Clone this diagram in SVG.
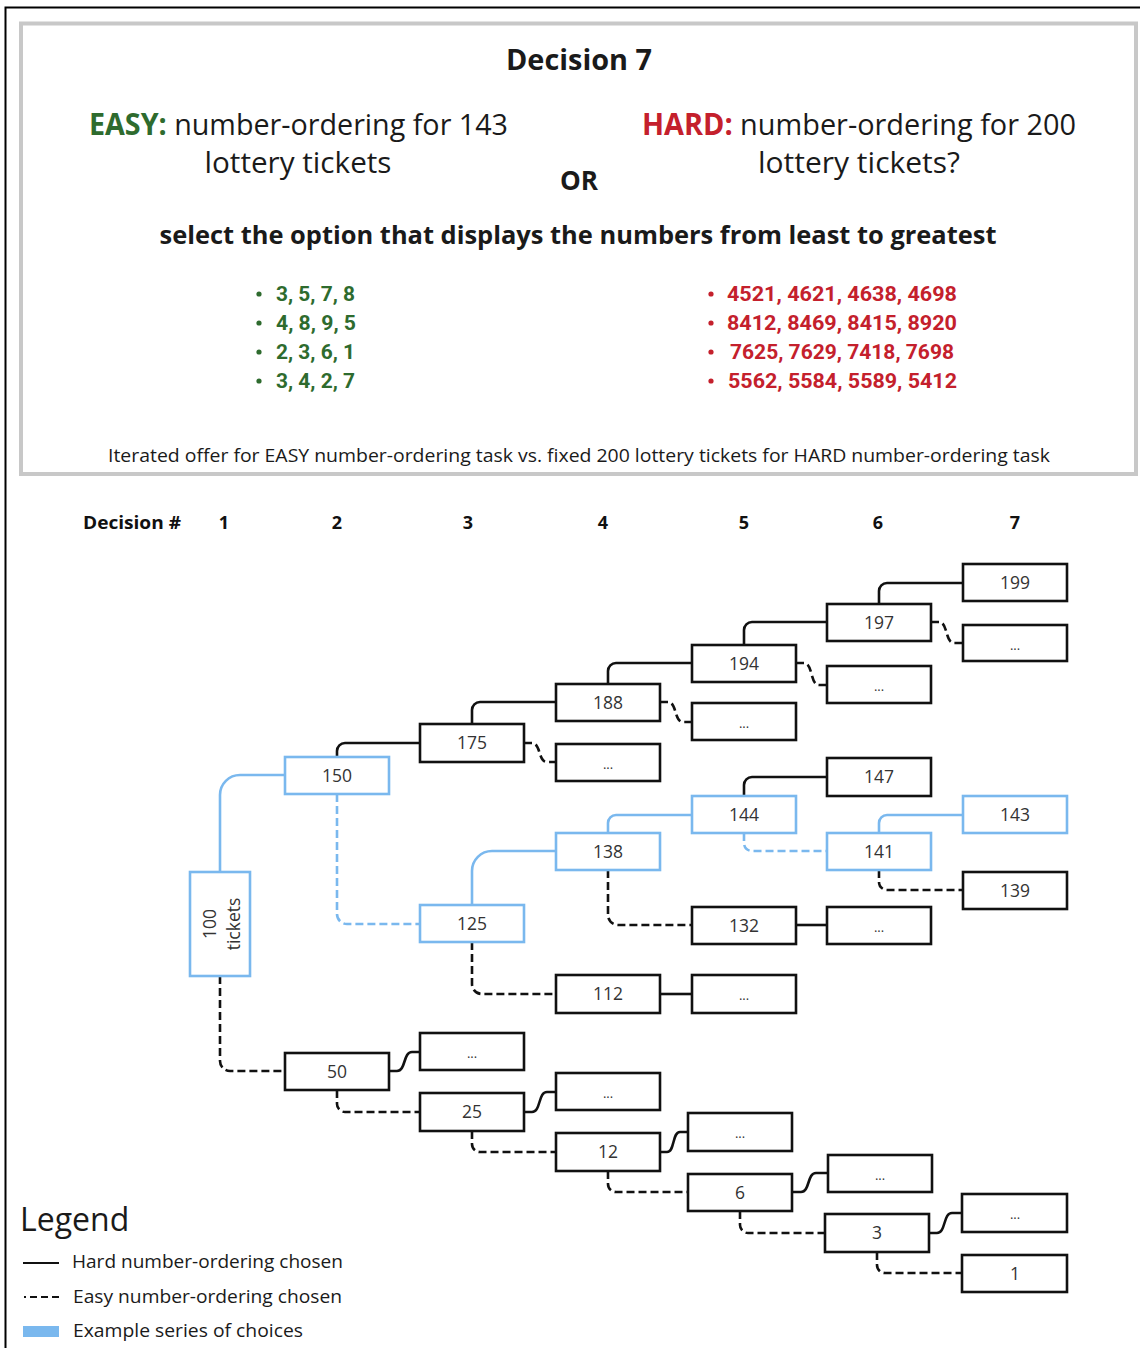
<svg xmlns="http://www.w3.org/2000/svg" width="1140" height="1348" viewBox="0 0 1140 1348">
<style>
.t{font-family:"Open Sans","Noto Sans","Liberation Sans",sans-serif;fill:#1a1a1a}
.b{font-weight:bold}
.g{fill:#2e6b2e}
.r{fill:#c4202c}
.lst{font-family:Roboto,"Open Sans","Liberation Sans",sans-serif;font-weight:bold;font-size:21px}
.nd rect{fill:#fff;stroke:#111;stroke-width:2.6}
.nd.bl rect{stroke:#7ab8ee}
.nd text{font-family:"Open Sans","Noto Sans","Liberation Sans",sans-serif;font-size:17.5px;fill:#333;text-anchor:middle}
.nd text.d{font-size:13px}
.hc{fill:none;stroke:#111;stroke-width:2.6}
.ec{fill:none;stroke:#111;stroke-width:2.6;stroke-dasharray:8 4}
.hb{fill:none;stroke:#7ab8ee;stroke-width:2.6}
.eb{fill:none;stroke:#7ab8ee;stroke-width:2.6;stroke-dasharray:8 4}
.hd{font-family:"Open Sans","Noto Sans","Liberation Sans",sans-serif;font-weight:bold;font-size:18px;fill:#111;text-anchor:middle}
.hd.st{text-anchor:start}
</style>

<!-- frames -->
<path d="M5.5,1348 V7.5 H1140" fill="none" stroke="#000" stroke-width="2"/>
<rect x="21" y="23.5" width="1115" height="450.5" fill="#fff" stroke="#c8c8c8" stroke-width="4"/>

<!-- top panel -->
<g id="panel">
<text class="t b" x="579" y="70" font-size="28" text-anchor="middle" textLength="146" lengthAdjust="spacingAndGlyphs">Decision 7</text>
<text class="t" x="89" y="135" font-size="30" textLength="419" lengthAdjust="spacingAndGlyphs"><tspan class="g b">EASY:</tspan> number-ordering for 143</text>
<text class="t" x="298" y="173" font-size="30" text-anchor="middle" textLength="187" lengthAdjust="spacingAndGlyphs">lottery tickets</text>
<text class="t" x="642" y="135" font-size="30" textLength="434" lengthAdjust="spacingAndGlyphs"><tspan class="r b">HARD:</tspan> number-ordering for 200</text>
<text class="t" x="859" y="173" font-size="30" text-anchor="middle" textLength="202" lengthAdjust="spacingAndGlyphs">lottery tickets?</text>
<text class="t b" x="579" y="190" font-size="26" text-anchor="middle" textLength="38" lengthAdjust="spacingAndGlyphs">OR</text>
<text class="t b" x="578" y="244" font-size="25" text-anchor="middle" textLength="837" lengthAdjust="spacingAndGlyphs">select the option that displays the numbers from least to greatest</text>
<g class="g">
<circle cx="259" cy="294" r="2.6"/><circle cx="259" cy="323" r="2.6"/><circle cx="259" cy="352" r="2.6"/><circle cx="259" cy="381" r="2.6"/>
</g>
<text class="lst g" x="276" y="301" textLength="79" lengthAdjust="spacingAndGlyphs">3, 5, 7, 8</text>
<text class="lst g" x="276" y="330" textLength="80" lengthAdjust="spacingAndGlyphs">4, 8, 9, 5</text>
<text class="lst g" x="276" y="359" textLength="79" lengthAdjust="spacingAndGlyphs">2, 3, 6, 1</text>
<text class="lst g" x="276" y="388" textLength="79" lengthAdjust="spacingAndGlyphs">3, 4, 2, 7</text>
<g class="r">
<circle cx="711" cy="294" r="2.6"/><circle cx="711" cy="323" r="2.6"/><circle cx="711" cy="352" r="2.6"/><circle cx="711" cy="381" r="2.6"/>
</g>
<text class="lst r" x="727" y="301" textLength="230" lengthAdjust="spacingAndGlyphs">4521, 4621, 4638, 4698</text>
<text class="lst r" x="727" y="330" textLength="230" lengthAdjust="spacingAndGlyphs">8412, 8469, 8415, 8920</text>
<text class="lst r" x="730" y="359" textLength="224" lengthAdjust="spacingAndGlyphs">7625, 7629, 7418, 7698</text>
<text class="lst r" x="728" y="388" textLength="229" lengthAdjust="spacingAndGlyphs">5562, 5584, 5589, 5412</text>
<text class="t" x="579" y="462" font-size="18" text-anchor="middle" textLength="942" lengthAdjust="spacingAndGlyphs">Iterated offer for EASY number-ordering task vs. fixed 200 lottery tickets for HARD number-ordering task</text>
</g>

<!-- decision header -->
<g id="header">
<text class="hd st" x="83" y="529" textLength="98" lengthAdjust="spacingAndGlyphs">Decision #</text>
<text class="hd" x="224" y="529">1</text>
<text class="hd" x="337" y="529">2</text>
<text class="hd" x="468" y="529">3</text>
<text class="hd" x="603" y="529">4</text>
<text class="hd" x="744" y="529">5</text>
<text class="hd" x="878" y="529">6</text>
<text class="hd" x="1015" y="529">7</text>
</g>

<!-- connectors -->
<g id="connectors">
<!-- hard (solid) up-right -->
<path class="hc" d="M337,757 V751 A8,8 0 0 1 345,743 H420"/>
<path class="hc" d="M472,724 V710 A8,8 0 0 1 480,702 H556"/>
<path class="hc" d="M608,684 V671 A8,8 0 0 1 616,663 H692"/>
<path class="hc" d="M744,645 V630 A8,8 0 0 1 752,622 H827"/>
<path class="hc" d="M879,604 V591 A8,8 0 0 1 887,583 H963"/>
<path class="hc" d="M744,796 V785 A8,8 0 0 1 752,777 H827"/>
<path class="hb" d="M608,833 V823 A8,8 0 0 1 616,815 H692"/>
<path class="hb" d="M879,833 V823 A8,8 0 0 1 887,815 H963"/>
<path class="hb" d="M472,905 V871 A20,20 0 0 1 492,851 H556"/>
<path class="hb" d="M220,872 V795 A20,20 0 0 1 240,775 H285"/>
<!-- easy (dashed) down-right -->
<path class="eb" d="M337,794 V914 A10,10 0 0 0 347,924 H420"/>
<path class="ec" d="M472,942 V984 A10,10 0 0 0 482,994 H556"/>
<path class="ec" d="M608,870 V915 A10,10 0 0 0 618,925 H692"/>
<path class="eb" d="M744,833 V843 A8,8 0 0 0 752,851 H827"/>
<path class="ec" d="M879,870 V882 A8,8 0 0 0 887,890 H963"/>
<path class="ec" d="M220,976 V1061 A10,10 0 0 0 230,1071 H285"/>
<path class="ec" d="M337,1090 V1104 A8,8 0 0 0 345,1112 H420"/>
<path class="ec" d="M472,1131 V1144 A8,8 0 0 0 480,1152 H556"/>
<path class="ec" d="M608,1171 V1184 A8,8 0 0 0 616,1192 H688"/>
<path class="ec" d="M740,1211 V1225 A8,8 0 0 0 748,1233 H825"/>
<path class="ec" d="M877,1252 V1265 A8,8 0 0 0 885,1273 H962"/>
<!-- easy S-curves (down) -->
<path class="ec" d="M524,743 H532 C541,743 538,762 547,762 H556"/>
<path class="ec" d="M660,702 H668 C677,702 674,722 683,722 H692"/>
<path class="ec" d="M796,663 H804 C813,663 810,685 819,685 H827"/>
<path class="ec" d="M931,622 H939 C948,622 945,643 954,643 H963"/>
<!-- hard S-curves (up) -->
<path class="hc" d="M389,1071 H397 C406,1071 403,1052 412,1052 H420"/>
<path class="hc" d="M524,1112 H532 C541,1112 538,1092 547,1092 H556"/>
<path class="hc" d="M660,1152 H667 C675,1152 672,1132 680,1132 H688"/>
<path class="hc" d="M792,1192 H801 C810,1192 807,1173 816,1173 H828"/>
<path class="hc" d="M929,1233 H937 C946,1233 943,1213 952,1213 H962"/>
<!-- straight -->
<path class="hc" d="M796,925 H827"/>
<path class="hc" d="M660,994 H692"/>
</g>

<!-- nodes -->
<g id="n199" class="nd"><rect x="963" y="564" width="104" height="37"/><text x="1015" y="589">199</text></g>
<g id="n197" class="nd"><rect x="827" y="604" width="104" height="37"/><text x="879" y="629">197</text></g>
<g id="n197e" class="nd"><rect x="963" y="625" width="104" height="36"/><text class="d" x="1015" y="650">...</text></g>
<g id="n194" class="nd"><rect x="692" y="645" width="104" height="37"/><text x="744" y="670">194</text></g>
<g id="n194e" class="nd"><rect x="827" y="666" width="104" height="37"/><text class="d" x="879" y="691">...</text></g>
<g id="n188" class="nd"><rect x="556" y="684" width="104" height="37"/><text x="608" y="709">188</text></g>
<g id="n188e" class="nd"><rect x="692" y="703" width="104" height="37"/><text class="d" x="744" y="728">...</text></g>
<g id="n175" class="nd"><rect x="420" y="724" width="104" height="38"/><text x="472" y="749">175</text></g>
<g id="n175e" class="nd"><rect x="556" y="744" width="104" height="37"/><text class="d" x="608" y="769">...</text></g>
<g id="n150" class="nd bl"><rect x="285" y="757" width="104" height="37"/><text x="337" y="782">150</text></g>
<g id="n147" class="nd"><rect x="827" y="758" width="104" height="38"/><text x="879" y="783">147</text></g>
<g id="n144" class="nd bl"><rect x="692" y="796" width="104" height="37"/><text x="744" y="821">144</text></g>
<g id="n143" class="nd bl"><rect x="963" y="796" width="104" height="37"/><text x="1015" y="821">143</text></g>
<g id="n138" class="nd bl"><rect x="556" y="833" width="104" height="37"/><text x="608" y="858">138</text></g>
<g id="n141" class="nd bl"><rect x="827" y="833" width="104" height="37"/><text x="879" y="858">141</text></g>
<g id="n139" class="nd"><rect x="963" y="872" width="104" height="37"/><text x="1015" y="897">139</text></g>
<g id="n100" class="nd bl"><rect x="190" y="872" width="60" height="104"/>
<g transform="translate(220,924) rotate(-90)"><text x="0" y="-4">100</text><text x="0" y="20">tickets</text></g></g>
<g id="n125" class="nd bl"><rect x="420" y="905" width="104" height="37"/><text x="472" y="930">125</text></g>
<g id="n132" class="nd"><rect x="692" y="907" width="104" height="37"/><text x="744" y="932">132</text></g>
<g id="n132e" class="nd"><rect x="827" y="907" width="104" height="37"/><text class="d" x="879" y="932">...</text></g>
<g id="n112" class="nd"><rect x="556" y="975" width="104" height="38"/><text x="608" y="1000">112</text></g>
<g id="n112e" class="nd"><rect x="692" y="975" width="104" height="38"/><text class="d" x="744" y="1000">...</text></g>
<g id="n50e" class="nd"><rect x="420" y="1033" width="104" height="37"/><text class="d" x="472" y="1058">...</text></g>
<g id="n50" class="nd"><rect x="285" y="1053" width="104" height="37"/><text x="337" y="1078">50</text></g>
<g id="n25e" class="nd"><rect x="556" y="1073" width="104" height="37"/><text class="d" x="608" y="1098">...</text></g>
<g id="n25" class="nd"><rect x="420" y="1093" width="104" height="38"/><text x="472" y="1118">25</text></g>
<g id="n12e" class="nd"><rect x="688" y="1113" width="104" height="38"/><text class="d" x="740" y="1138">...</text></g>
<g id="n12" class="nd"><rect x="556" y="1133" width="104" height="38"/><text x="608" y="1158">12</text></g>
<g id="n6e" class="nd"><rect x="828" y="1155" width="104" height="37"/><text class="d" x="880" y="1180">...</text></g>
<g id="n6" class="nd"><rect x="688" y="1174" width="104" height="37"/><text x="740" y="1199">6</text></g>
<g id="n3e" class="nd"><rect x="962" y="1194" width="105" height="38"/><text class="d" x="1015" y="1219">...</text></g>
<g id="n3" class="nd"><rect x="825" y="1214" width="104" height="38"/><text x="877" y="1239">3</text></g>
<g id="n1" class="nd"><rect x="962" y="1255" width="105" height="37"/><text x="1015" y="1280">1</text></g>

<!-- legend -->
<g id="legend">
<text class="t" x="20" y="1231" font-size="32">Legend</text>
<path d="M23,1263 H59" stroke="#111" stroke-width="2.2"/>
<text class="t" x="72" y="1268" font-size="18" textLength="271" lengthAdjust="spacingAndGlyphs">Hard number-ordering chosen</text>
<path d="M24,1297 H26 M30,1297 H37 M41,1297 H48 M52,1297 H59" stroke="#111" stroke-width="2.2"/>
<text class="t" x="73" y="1303" font-size="18" textLength="269" lengthAdjust="spacingAndGlyphs">Easy number-ordering chosen</text>
<rect x="23" y="1326" width="36" height="11" fill="#7ab8ee"/>
<text class="t" x="73" y="1337" font-size="18" textLength="230" lengthAdjust="spacingAndGlyphs">Example series of choices</text>
</g>
</svg>
